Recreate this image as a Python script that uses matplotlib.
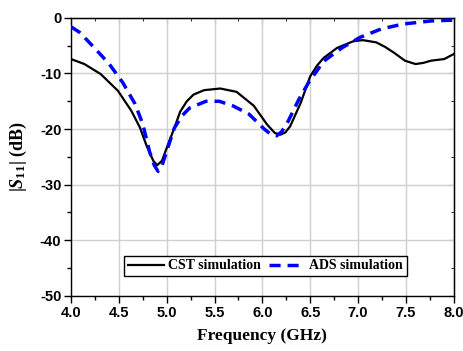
import numpy as np
import matplotlib
matplotlib.use('Agg')
import matplotlib.pyplot as plt
from matplotlib.ticker import MultipleLocator

plt.rcParams['axes.unicode_minus'] = False
plt.rcParams['mathtext.fontset'] = 'custom'
plt.rcParams['mathtext.rm'] = 'Liberation Serif:bold'
plt.rcParams['mathtext.it'] = 'Liberation Serif:italic:bold'
plt.rcParams['mathtext.bf'] = 'Liberation Serif:bold'

# CST simulated reflection coefficient
cst_freq = [4.00, 4.14, 4.31, 4.49, 4.63, 4.72, 4.79, 4.86, 4.90, 4.95,
            5.02, 5.08, 5.14, 5.21, 5.28, 5.39, 5.56, 5.73, 5.91, 6.05,
            6.13, 6.19, 6.24, 6.29, 6.40, 6.50, 6.57, 6.64, 6.78, 6.95,
            7.05, 7.19, 7.28, 7.37, 7.49, 7.60, 7.68, 7.76, 7.90, 8.00]
cst_s11 = [-7.4, -8.3, -10.1, -13.1, -16.7, -19.7, -23.0, -25.7, -26.5, -25.7,
           -22.5, -19.8, -16.9, -15.0, -13.8, -13.0, -12.7, -13.3, -15.8, -19.2,
           -20.7, -21.0, -20.6, -19.5, -15.3, -10.5, -8.6, -7.2, -5.4, -4.2,
           -4.0, -4.4, -5.2, -6.2, -7.7, -8.3, -8.1, -7.7, -7.4, -6.5]

# ADS simulated reflection coefficient
ads_freq = [4.00, 4.09, 4.24, 4.40, 4.54, 4.67, 4.75, 4.82, 4.87, 4.91,
            4.95, 4.99, 5.08, 5.16, 5.24, 5.41, 5.55, 5.69, 5.86, 6.02,
            6.10, 6.15, 6.20, 6.26, 6.38, 6.48, 6.64, 6.83, 7.02, 7.24,
            7.47, 7.76, 8.00]
ads_s11 = [-1.6, -2.6, -5.3, -8.3, -11.6, -15.5, -19.1, -24.0, -26.5, -27.6,
           -26.6, -24.5, -19.8, -17.6, -16.2, -15.0, -15.0, -15.8, -17.3, -20.0,
           -21.1, -21.2, -20.5, -18.9, -14.7, -11.7, -7.8, -5.4, -3.5, -2.0,
           -1.1, -0.55, -0.4]

fig = plt.figure(figsize=(4.64, 3.51), dpi=100)
ax = fig.add_axes([0.153, 0.157, 0.825, 0.792])

ax.plot(cst_freq, cst_s11, color='black', lw=1.6, label='CST simulation', zorder=3)
ax.plot(ads_freq, ads_s11, color='blue', lw=2.5, dashes=(3.2, 2.0),
        label='ADS simulation', zorder=4)

ax.set_xlim(4.0, 8.0)
ax.set_ylim(-50, 0)
ax.xaxis.set_major_locator(MultipleLocator(0.5))
ax.xaxis.set_minor_locator(MultipleLocator(0.25))
ax.yaxis.set_major_locator(MultipleLocator(10))
ax.yaxis.set_minor_locator(MultipleLocator(5))
ax.xaxis.set_major_formatter(matplotlib.ticker.FormatStrFormatter('%.1f'))
ax.grid(True, which='major', color='#cfcfcf', lw=1.0)
ax.set_axisbelow(True)

ax.tick_params(which='major', direction='out', length=5, width=1, labelsize=10.5, pad=2)
ax.tick_params(which='minor', direction='out', length=3, width=1)
for lab in ax.get_xticklabels() + ax.get_yticklabels():
    lab.set_fontfamily('Liberation Sans')
    lab.set_fontweight('bold')

# inward ticks on the top and right frame
top = ax.secondary_xaxis('top')
top.xaxis.set_major_locator(MultipleLocator(0.5))
top.xaxis.set_minor_locator(MultipleLocator(0.25))
top.tick_params(which='both', direction='in', labeltop=False)
top.tick_params(which='major', length=4)
top.tick_params(which='minor', length=2.5)
right = ax.secondary_yaxis('right')
right.yaxis.set_major_locator(MultipleLocator(10))
right.yaxis.set_minor_locator(MultipleLocator(5))
right.tick_params(which='both', direction='in', labelright=False)
right.tick_params(which='major', length=4)
right.tick_params(which='minor', length=2.5)

for sp in ax.spines.values():
    sp.set_linewidth(1.0)

ax.set_xlabel('Frequency (GHz)', fontfamily='Liberation Serif', fontweight='bold',
              fontsize=12.5, labelpad=6)
ax.set_ylabel(r'|$S_{11}$| (dB)', fontfamily='Liberation Serif', fontweight='bold',
              fontsize=13, labelpad=8)

leg = ax.legend(loc='center', bbox_to_anchor=(0.508, 0.108), ncol=2,
                prop={'family': 'Liberation Serif', 'weight': 'bold', 'size': 10},
                frameon=True, fancybox=False, edgecolor='black', framealpha=1,
                handlelength=2.6, columnspacing=0.6, handletextpad=0.3,
                borderpad=0.25, borderaxespad=0)
leg.get_frame().set_linewidth(1.0)

fig.savefig('out.png', dpi=100)
